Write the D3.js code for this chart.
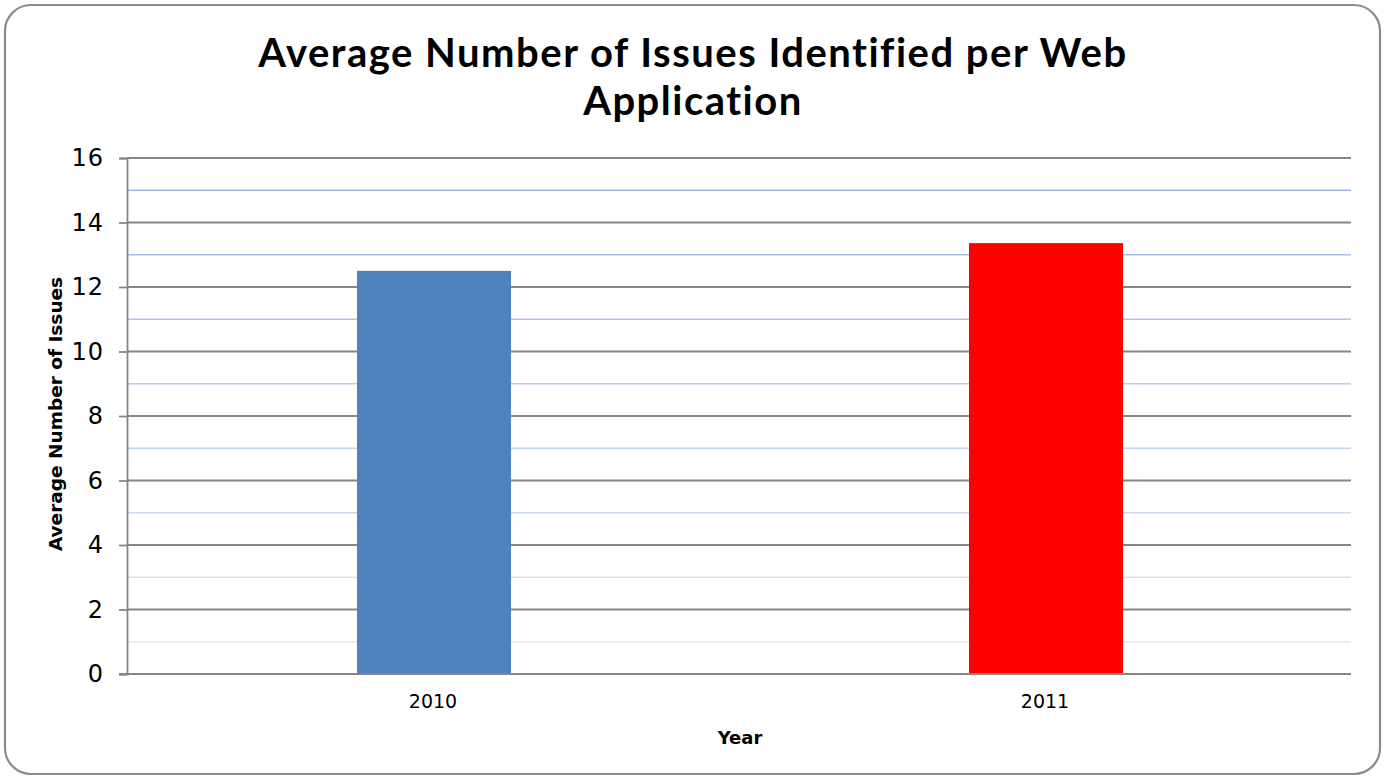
<!DOCTYPE html>
<html>
<head>
<meta charset="utf-8">
<script src="https://cdn.jsdelivr.net/npm/d3@7"></script>
<style>
  html, body { margin: 0; padding: 0; background: #ffffff; }
  svg { display: block; }
</style>
</head>
<body>
<svg id="chart" width="1386" height="778"></svg>
<script>
// Chart data
const categories = ["2010", "2011"];
const values = [12.5, 13.36];
const barColors = ["#4f81bd", "#ff0000"];
const yTicks = [0, 2, 4, 6, 8, 10, 12, 14, 16];
const yMinorTicks = [1, 3, 5, 7, 9, 11, 13, 15];
const titleLines = ["Average Number of Issues Identified per Web", "Application"];
const xTitle = "Year";
const yTitle = "Average Number of Issues";

const svg = d3.select("#chart");
const W = 1386, H = 778;
const titleFont = "Lato, 'DejaVu Sans', sans-serif";
const labelFont = "'DejaVu Sans', Lato, sans-serif";

// Rounded outer frame
svg.append("rect")
  .attr("x", 5).attr("y", 5)
  .attr("width", W - 11).attr("height", H - 9)
  .attr("rx", 26).attr("ry", 26)
  .attr("fill", "#ffffff")
  .attr("stroke", "#8c8c8c")
  .attr("stroke-width", 2.2);

const plot = { left: 127, right: 1351, top: 158, bottom: 674 };

const x = d3.scaleBand()
  .domain(categories)
  .range([plot.left, plot.right])
  .padding(0);

const y = d3.scaleLinear()
  .domain([0, 16])
  .range([plot.bottom, plot.top]);

// Minor gridlines: light blue, fading towards the bottom
const minorColor = d3.scaleLinear()
  .domain([1, 15])
  .range(["#dfe8f5", "#9cb6e2"]);

svg.append("g")
  .selectAll("line")
  .data(yMinorTicks)
  .join("line")
  .attr("x1", plot.left).attr("x2", plot.right)
  .attr("y1", d => y(d)).attr("y2", d => y(d))
  .attr("stroke", d => minorColor(d))
  .attr("stroke-width", 1.6);

// Major gridlines
svg.append("g")
  .selectAll("line")
  .data(yTicks.filter(d => d > 0))
  .join("line")
  .attr("x1", plot.left).attr("x2", plot.right)
  .attr("y1", d => y(d)).attr("y2", d => y(d))
  .attr("stroke", "#868686")
  .attr("stroke-width", 1.8);

// Bars (gap width 300%)
const barW = x.bandwidth() / 4;
svg.append("g")
  .selectAll("rect")
  .data(categories.map((c, i) => ({ c, v: values[i], color: barColors[i] })))
  .join("rect")
  .attr("x", d => x(d.c) + (x.bandwidth() - barW) / 2 + 0.5)
  .attr("y", d => y(d.v))
  .attr("width", barW + 1)
  .attr("height", d => y(0) - y(d.v))
  .attr("fill", d => d.color);

// Y axis
const yAxis = d3.axisLeft(y)
  .tickValues(yTicks)
  .tickSize(8)
  .tickPadding(15)
  .tickFormat(d3.format("d"));

const gy = svg.append("g")
  .attr("transform", `translate(${plot.left},0)`)
  .call(yAxis);
gy.select(".domain").attr("stroke", "#868686").attr("stroke-width", 1.8);
gy.selectAll(".tick line").attr("stroke", "#868686").attr("stroke-width", 1.8);
gy.selectAll(".tick text")
  .attr("font-family", labelFont)
  .attr("font-size", 24)
  .attr("letter-spacing", 1)
  .attr("fill", "#000");

// X axis baseline
const xAxis = d3.axisBottom(x).tickSize(0).tickPadding(21);
const gx = svg.append("g")
  .attr("transform", `translate(0,${plot.bottom})`)
  .call(xAxis);
gx.select(".domain").attr("stroke", "#868686").attr("stroke-width", 1.8)
  .attr("d", `M${plot.left - 8},0H${plot.right}`);
gx.selectAll(".tick text")
  .attr("font-family", labelFont)
  .attr("font-size", 19)
  .attr("fill", "#000");

// Titles
svg.append("g")
  .selectAll("text")
  .data(titleLines)
  .join("text")
  .attr("x", 693)
  .attr("y", (d, i) => 67 + i * 48)
  .attr("text-anchor", "middle")
  .attr("font-family", titleFont)
  .attr("font-weight", "bold")
  .attr("font-size", 40)
  .attr("letter-spacing", 1.5)
  .attr("fill", "#000")
  .text(d => d);

svg.append("text")
  .attr("x", 740)
  .attr("y", 744)
  .attr("text-anchor", "middle")
  .attr("font-family", labelFont)
  .attr("font-weight", "bold")
  .attr("font-size", 18)
  .text(xTitle);

svg.append("text")
  .attr("transform", "translate(62,414) rotate(-90)")
  .attr("text-anchor", "middle")
  .attr("font-family", labelFont)
  .attr("font-weight", "bold")
  .attr("font-size", 18.5)
  .text(yTitle);
</script>
</body>
</html>
